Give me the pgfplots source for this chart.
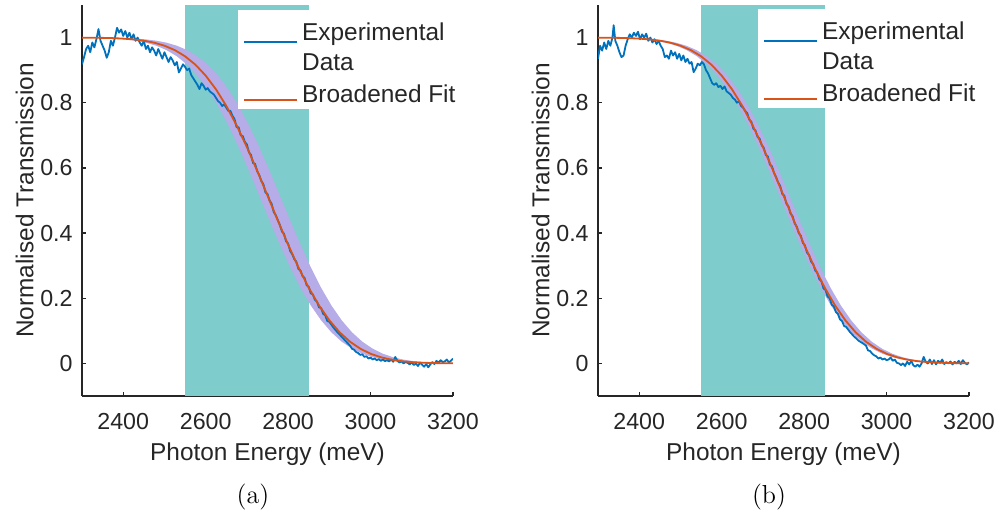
\documentclass[border=0pt]{standalone}
\usepackage{fontspec}
\usepackage{pgfplots}
\usepackage{pgfplotstable}
\pgfplotsset{compat=1.18}
\newfontfamily\arial{Liberation Sans}
\definecolor{tealfill}{RGB}{126,204,204}
\definecolor{bandcol}{RGB}{181,172,232}
\definecolor{mblue}{RGB}{0,114,189}
\definecolor{morange}{RGB}{217,83,25}
\definecolor{axgray}{RGB}{38,38,38}

\pgfplotstableread{
x y
2300 0.9998
2325 0.9995
2350 0.9991
2375 0.9983
2400 0.9968
2425 0.9944
2450 0.9905
2475 0.9844
2500 0.9751
2525 0.9616
2550 0.9426
2575 0.9170
2600 0.8834
2625 0.8413
2650 0.7904
2675 0.7308
2700 0.6639
2725 0.5913
2750 0.5153
2775 0.4388
2800 0.3647
2825 0.2952
2850 0.2324
2875 0.1780
2900 0.1324
2925 0.0955
2950 0.0668
2975 0.0453
3000 0.0297
3025 0.0189
3050 0.0116
3075 0.0069
3100 0.0040
3125 0.0022
3150 0.0012
3175 0.0006
3200 0.0003
}\fitdata

\pgfplotstableread{
x y
2280 1.0000
2330 0.9998
2355 0.9995
2380 0.9991
2405 0.9983
2430 0.9968
2455 0.9944
2480 0.9905
2505 0.9844
2530 0.9751
2555 0.9616
2580 0.9426
2605 0.9170
2630 0.8834
2655 0.8413
2680 0.7904
2705 0.7308
2730 0.6639
2755 0.5913
2780 0.5153
2805 0.4388
2830 0.3647
2855 0.2952
2880 0.2324
2905 0.1780
2930 0.1324
2955 0.0955
2980 0.0668
3005 0.0453
3030 0.0297
3055 0.0189
3080 0.0116
3105 0.0069
3130 0.0040
3155 0.0022
3180 0.0012
3205 0.0006
3230 0.0003
3230 0.0000
3180 0.0003
3155 0.0006
3130 0.0012
3105 0.0022
3080 0.0040
3055 0.0069
3030 0.0116
3005 0.0189
2980 0.0297
2955 0.0453
2930 0.0668
2905 0.0955
2880 0.1324
2855 0.1780
2830 0.2324
2805 0.2952
2780 0.3647
2755 0.4388
2730 0.5153
2705 0.5913
2680 0.6639
2655 0.7308
2630 0.7904
2605 0.8413
2580 0.8834
2555 0.9170
2530 0.9426
2505 0.9616
2480 0.9751
2455 0.9844
2430 0.9905
2405 0.9944
2380 0.9968
2355 0.9983
2330 0.9991
2305 0.9995
2280 0.9998
}\bandA

\pgfplotstableread{
x y
2290 1.0000
2314 0.9998
2339 0.9995
2364 0.9991
2389 0.9983
2414 0.9968
2439 0.9944
2464 0.9905
2489 0.9844
2514 0.9751
2539 0.9616
2564 0.9426
2589 0.9170
2614 0.8834
2639 0.8413
2664 0.7904
2689 0.7308
2714 0.6639
2739 0.5913
2764 0.5153
2789 0.4388
2814 0.3647
2839 0.2952
2864 0.2324
2889 0.1780
2914 0.1324
2939 0.0955
2964 0.0668
2989 0.0453
3014 0.0297
3039 0.0189
3064 0.0116
3089 0.0069
3114 0.0040
3139 0.0022
3164 0.0012
3189 0.0006
3214 0.0003
3214 0.0000
3190 0.0003
3165 0.0006
3140 0.0012
3115 0.0022
3090 0.0040
3065 0.0069
3040 0.0116
3015 0.0189
2990 0.0297
2965 0.0453
2940 0.0668
2915 0.0955
2890 0.1324
2865 0.1780
2840 0.2324
2815 0.2952
2790 0.3647
2765 0.4388
2740 0.5153
2715 0.5913
2690 0.6639
2665 0.7308
2640 0.7904
2615 0.8413
2590 0.8834
2565 0.9170
2540 0.9426
2515 0.9616
2490 0.9751
2465 0.9844
2440 0.9905
2415 0.9944
2390 0.9968
2365 0.9983
2340 0.9991
2315 0.9995
2290 0.9998
}\bandB

\pgfplotstableread{
x y
2300 0.918
2305 0.940
2310 0.965
2315 0.975
2320 0.955
2325 0.985
2330 0.970
2335 0.995
2340 1.026
2345 0.990
2350 0.975
2355 0.960
2360 0.938
2365 0.955
2370 0.990
2375 0.975
2380 1.000
2385 1.030
2390 1.015
2395 1.025
2400 1.005
2405 1.020
2410 1.000
2415 1.015
2420 0.995
2425 1.010
2430 0.990
2435 1.000
2440 0.985
2445 0.975
2450 0.990
2455 0.965
2460 0.975
2465 0.955
2470 0.970
2475 0.960
2480 0.945
2485 0.965
2490 0.950
2495 0.935
2500 0.955
2505 0.940
2510 0.925
2515 0.940
2520 0.930
2525 0.915
2530 0.925
2535 0.893
2540 0.905
2545 0.918
2550 0.910
2555 0.900
2560 0.905
2565 0.885
2570 0.875
2575 0.865
2580 0.855
2585 0.842
2590 0.860
2595 0.852
2600 0.840
2605 0.845
2610 0.835
2615 0.830
2620 0.825
2625 0.815
2630 0.805
2635 0.800
2640 0.790
2645 0.795
2650 0.785
2655 0.775
2660 0.775
2665 0.760
2670 0.750
2675 0.725
2680 0.725
2685 0.700
2690 0.698
2695 0.680
2700 0.672
2705 0.648
2710 0.640
2715 0.615
2720 0.612
2725 0.590
2730 0.578
2735 0.560
2740 0.550
2745 0.525
2750 0.520
2755 0.500
2760 0.490
2765 0.465
2770 0.455
2775 0.440
2780 0.425
2785 0.405
2790 0.398
2795 0.375
2800 0.368
2805 0.345
2810 0.335
2815 0.320
2820 0.312
2825 0.290
2830 0.285
2835 0.268
2840 0.262
2845 0.240
2850 0.235
2855 0.215
2860 0.212
2865 0.195
2870 0.190
2875 0.172
2880 0.170
2885 0.152
2890 0.148
2895 0.130
2900 0.128
2910 0.110
2920 0.095
2930 0.082
2940 0.068
2950 0.055
2955 0.045
2960 0.042
2965 0.035
2970 0.032
2975 0.026
2980 0.028
2985 0.020
2990 0.022
2995 0.015
3000 0.018
3005 0.012
3010 0.015
3015 0.010
3020 0.013
3025 0.008
3030 0.012
3035 0.007
3040 0.010
3045 0.006
3050 0.012
3055 0.005
3060 0.020
3065 0.008
3070 0.003
3075 0.006
3080 0.000
3085 0.004
3090 0.002
3095 -0.003
3100 0.003
3105 -0.005
3110 0.000
3115 -0.008
3120 0.002
3125 -0.004
3130 -0.010
3135 -0.002
3140 -0.012
3145 -0.003
3150 0.004
3155 -0.002
3160 0.008
3165 0.002
3170 0.010
3175 0.004
3180 0.006
3185 0.012
3190 0.003
3195 0.008
3200 0.015
}\dataA

\pgfplotstableread{
x y
2300 0.935
2305 0.975
2310 0.960
2315 0.985
2320 0.965
2325 0.990
2330 0.975
2335 1.000
2338 1.038
2342 0.990
2347 0.975
2352 0.955
2357 0.940
2362 0.945
2367 0.975
2372 0.995
2377 1.010
2382 1.000
2387 1.015
2392 1.005
2397 1.018
2402 0.995
2407 1.010
2412 1.000
2417 1.012
2422 0.990
2427 1.000
2432 0.985
2437 0.995
2442 0.980
2447 0.990
2452 0.975
2457 0.965
2462 0.940
2467 0.945
2472 0.935
2477 0.960
2482 0.945
2487 0.955
2492 0.935
2497 0.950
2502 0.930
2507 0.945
2512 0.925
2517 0.935
2522 0.920
2527 0.925
2532 0.894
2537 0.905
2542 0.920
2547 0.915
2552 0.925
2557 0.918
2562 0.900
2567 0.890
2572 0.875
2577 0.860
2582 0.855
2587 0.860
2592 0.848
2597 0.852
2602 0.842
2607 0.850
2612 0.835
2617 0.830
2622 0.825
2627 0.815
2632 0.810
2637 0.800
2642 0.805
2647 0.790
2652 0.785
2657 0.775
2662 0.768
2667 0.748
2672 0.742
2677 0.720
2682 0.715
2687 0.695
2692 0.690
2697 0.670
2702 0.662
2707 0.640
2712 0.635
2717 0.610
2722 0.605
2727 0.585
2732 0.572
2737 0.555
2742 0.545
2747 0.520
2752 0.515
2757 0.490
2762 0.482
2767 0.460
2772 0.452
2777 0.430
2782 0.420
2787 0.400
2792 0.392
2797 0.370
2802 0.362
2807 0.340
2812 0.333
2817 0.312
2822 0.305
2827 0.285
2832 0.278
2837 0.258
2842 0.252
2847 0.230
2852 0.225
2857 0.205
2862 0.200
2867 0.180
2872 0.175
2877 0.158
2882 0.152
2887 0.135
2892 0.130
2897 0.115
2902 0.112
2912 0.095
2922 0.082
2932 0.070
2942 0.062
2950 0.055
2955 0.040
2960 0.038
2965 0.030
2970 0.025
2975 0.022
2980 0.015
2985 0.018
2990 0.012
2995 0.015
3000 0.010
3005 0.012
3010 0.018
3015 0.008
3020 0.012
3025 0.002
3030 0.000
3035 -0.005
3040 0.000
3045 -0.008
3050 0.005
3055 -0.003
3060 0.008
3065 -0.006
3070 -0.010
3075 -0.004
3080 -0.010
3085 0.000
3090 0.020
3095 0.005
3100 0.000
3105 0.012
3110 -0.002
3115 0.010
3120 -0.003
3125 0.008
3130 0.002
3135 0.012
3140 -0.002
3145 0.004
3150 0.000
3155 0.006
3160 -0.003
3165 0.005
3170 0.000
3175 0.008
3180 -0.002
3185 0.010
3190 0.002
3195 -0.003
3200 0.003
}\dataB

\pgfplotsset{
  legimgA/.style={legend image code/.code={\draw[##1] (0pt,1pt) -- (26.5pt,1pt);}},
  legimgB/.style={legend image code/.code={\draw[##1] (0pt,-2.5pt) -- (26.5pt,-2.5pt);}},
  mystyle/.style={
    scale only axis, width=185.5pt, height=195.5pt,
    xmin=2300, xmax=3200, ymin=-0.1, ymax=1.1,
    axis x line*=bottom, axis y line*=left,
    axis line style={draw=axgray, line width=0.6pt, -},
    xtick={2400,2600,2800,3000,3200},
    ytick={0,0.2,0.4,0.6,0.8,1},
    minor tick num=0,
    tick align=inside, major tick length=2.2pt,
    tick style={draw=axgray, line width=0.6pt},
    scaled ticks=false,
    /pgf/number format/1000 sep={},
    /pgf/number format/assume math mode=true,
    ticklabel style={font=\arial\fontsize{11.6}{13}\selectfont, text=axgray},
    xticklabel style={anchor=north, inner sep=0pt, yshift=-8.3pt},
    yticklabel style={anchor=east, inner sep=0pt, xshift=-4.5pt},
    label style={font=\arial\fontsize{12.2}{14}\selectfont, text=axgray},
    xlabel={Photon Energy (meV)},
    ylabel={Normalised Transmission},
    xlabel style={at={(axis description cs:0.5,-0.1637)}, anchor=base},
    ylabel style={at={(axis description cs:-0.131,0.5)}, anchor=base},
    legend style={draw=none, fill=white, font=\arial\fontsize{12.2}{15}\selectfont,
      text=axgray, inner xsep=2.5pt, inner ysep=0pt, row sep=1.5pt, column sep=0pt,
      cells={align=left, inner sep=0pt}, anchor=north west},
    legend cell align=left,
  }
}

\begin{document}
\begin{tikzpicture}
\useasboundingbox (0,0) rectangle (502pt,260pt);
\begin{axis}[mystyle, at={(41pt,62pt)}, anchor=south west,
  legend style={at={(axis description cs:0.4205,0.987)}}]
\addplot[draw=none, fill=tealfill, forget plot] coordinates {(2550,-0.1) (2850,-0.1) (2850,1.1) (2550,1.1)} -- cycle;
\addplot[draw=none, fill=bandcol, forget plot] table[x=x,y=y] {\bandA} -- cycle;
\addplot[mblue, line width=0.9pt, line join=round, legimgA] table[x=x,y=y] {\dataA};
\addlegendentry{\rule{0pt}{13.1pt}Experimental\\Data}
\addplot[morange, line width=0.9pt, line join=round, legimgB] table[x=x,y=y] {\fitdata};
\addlegendentry{Broadened Fit}
\end{axis}
\begin{axis}[mystyle, at={(299pt,62pt)}, anchor=south west,
  legend style={at={(axis description cs:0.431,0.99)}}]
\addplot[draw=none, fill=tealfill, forget plot] coordinates {(2550,-0.1) (2850,-0.1) (2850,1.1) (2550,1.1)} -- cycle;
\addplot[draw=none, fill=bandcol, forget plot] table[x=x,y=y] {\bandB} -- cycle;
\addplot[mblue, line width=0.9pt, line join=round, legimgA] table[x=x,y=y] {\dataB};
\addlegendentry{\rule{0pt}{13.1pt}Experimental\\Data}
\addplot[morange, line width=0.9pt, line join=round, legimgB] table[x=x,y=y] {\fitdata};
\addlegendentry{Broadened Fit}
\end{axis}
\node[anchor=base, font=\fontsize{13}{15}\selectfont] at (126.5pt,8.4pt) {(a)};
\node[anchor=base, font=\fontsize{13}{15}\selectfont] at (384.5pt,8.4pt) {(b)};
\end{tikzpicture}
\end{document}
